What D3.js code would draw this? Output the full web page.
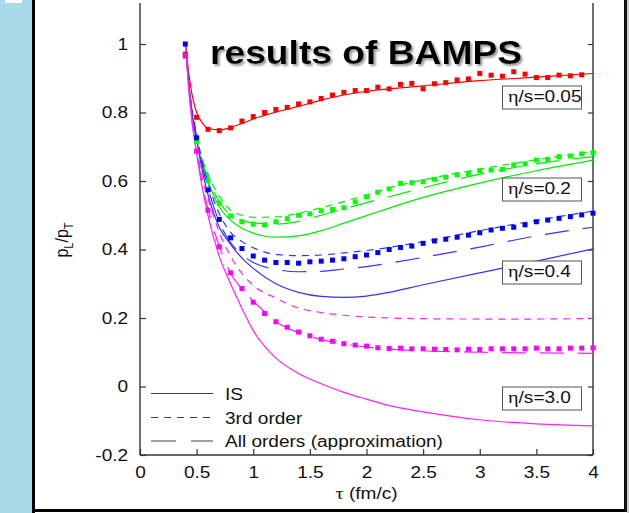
<!DOCTYPE html>
<html>
<head>
<meta charset="utf-8">
<script src="https://cdn.jsdelivr.net/npm/d3@7"></script>
<style>
  html, body { margin: 0; padding: 0; background: #fff; overflow: hidden; }
  text { font-family: "Liberation Sans", Arial, Helvetica, sans-serif; fill: #111; }
</style>
</head>
<body>
<svg id="chart" width="629" height="513"></svg>
<script>
// ---- BAMPS transport results: p_L/p_T vs proper time (tau in fm/c) ----
const tauDots = [0.4,0.5,0.6,0.7,0.8,0.9,1.0,1.1,1.2,1.3,1.4,1.5,1.6,1.7,1.8,1.9,2.0,2.1,2.2,
                 2.3,2.4,2.5,2.6,2.7,2.8,2.9,3.0,3.1,3.2,3.3,3.4,3.5,3.6,3.7,3.8,3.9,4.0];

const bampsEta005 = [0.970,0.786,0.751,0.747,0.755,0.775,0.788,0.800,0.809,0.815,0.825,0.831,0.841,0.851,0.859,0.864,0.864,0.874,0.869,
                     0.882,0.885,0.869,0.884,0.887,0.895,0.898,0.914,0.909,0.906,0.919,0.912,0.902,0.902,0.909,0.907,0.910];
const bampsEta02  = [0.965,0.715,0.600,0.535,0.498,0.481,0.474,0.472,0.481,0.490,0.500,0.504,0.513,0.517,0.522,0.539,0.554,0.567,0.577,
                     0.593,0.595,0.598,0.605,0.611,0.618,0.622,0.630,0.632,0.634,0.647,0.650,0.661,0.663,0.671,0.673,0.679,0.683];
const bampsEta04  = [1.000,0.726,0.574,0.488,0.434,0.403,0.381,0.369,0.362,0.362,0.360,0.364,0.366,0.369,0.373,0.379,0.384,0.391,0.400,
                     0.406,0.410,0.418,0.425,0.430,0.436,0.442,0.449,0.457,0.462,0.465,0.472,0.481,0.486,0.491,0.496,0.501,0.506];
const bampsEta30  = [0.965,0.687,0.515,0.408,0.332,0.286,0.246,0.213,0.189,0.173,0.159,0.148,0.138,0.132,0.125,0.121,0.118,0.113,0.111,
                     0.112,0.110,0.110,0.109,0.108,0.107,0.109,0.108,0.110,0.110,0.110,0.110,0.112,0.110,0.110,0.112,0.112,0.113];

// hydrodynamic curves sampled on a common tau grid
const tauLine = [0.4,0.45,0.5,0.55,0.6,0.7,0.8,0.9,1.0,1.2,1.4,1.6,1.8,2.0,2.2,2.5,3.0,3.5,4.0];

const isEta005   = [1.000,0.870,0.800,0.770,0.754,0.749,0.756,0.768,0.781,0.801,0.818,0.836,0.851,0.862,0.869,0.878,0.893,0.903,0.914];

const isEta02    = [1.000,0.820,0.720,0.650,0.600,0.525,0.485,0.462,0.448,0.436,0.440,0.455,0.477,0.499,0.521,0.552,0.594,0.630,0.661];
const ord3Eta02  = [1.000,0.830,0.730,0.665,0.620,0.556,0.515,0.500,0.494,0.495,0.506,0.522,0.540,0.560,0.580,0.603,0.635,0.662,0.686];
const allEta02   = [1.000,0.825,0.725,0.660,0.610,0.540,0.500,0.485,0.478,0.474,0.482,0.500,0.518,0.537,0.554,0.580,0.620,0.650,0.671];

const isEta04    = [1.000,0.820,0.720,0.630,0.560,0.465,0.415,0.375,0.345,0.300,0.275,0.263,0.260,0.264,0.275,0.297,0.332,0.366,0.402];
const ord3Eta04  = [1.000,0.830,0.735,0.655,0.595,0.505,0.450,0.423,0.405,0.386,0.382,0.384,0.390,0.397,0.406,0.423,0.455,0.485,0.512];
const allEta04   = [1.000,0.825,0.730,0.645,0.580,0.480,0.420,0.385,0.362,0.342,0.335,0.336,0.343,0.350,0.360,0.377,0.407,0.440,0.465];

const isEta30    = [1.000,0.800,0.680,0.580,0.500,0.380,0.300,0.228,0.163,0.083,0.038,0.008,-0.017,-0.037,-0.056,-0.074,-0.097,-0.109,-0.115];
const ord3Eta30  = [1.000,0.810,0.700,0.610,0.550,0.450,0.380,0.330,0.295,0.258,0.229,0.216,0.208,0.203,0.200,0.198,0.197,0.197,0.199];
const allEta30   = [1.000,0.800,0.690,0.590,0.520,0.410,0.330,0.285,0.250,0.190,0.157,0.137,0.124,0.115,0.109,0.104,0.100,0.098,0.097];

const xTicks = [0,0.5,1,1.5,2,2.5,3,3.5,4];
const yTicks = [-0.2,0,0.2,0.4,0.6,0.8,1];
const etaLabels = ["η/s=0.05","η/s=0.2","η/s=0.4","η/s=3.0"];
const legendLabels = ["IS","3rd order","All orders (approximation)"];

// ---- layout ----
const W = 629, H = 513;
const SX = 1.19; // horizontal stretch of the typeset text
const svg = d3.select("#chart");

// page frame
svg.append("rect").attr("x",0).attr("y",0).attr("width",W).attr("height",H).attr("fill","#fff");
svg.append("rect").attr("x",0).attr("y",0).attr("width",32).attr("height",H).attr("fill","#a9d9e8");
svg.append("rect").attr("x",5).attr("y",0).attr("width",17).attr("height",3).attr("fill","#fff");
svg.append("rect").attr("x",32).attr("y",0).attr("width",3).attr("height",H).attr("fill","#000");
svg.append("rect").attr("x",32).attr("y",509).attr("width",595).attr("height",3).attr("fill","#000");
svg.append("rect").attr("x",624).attr("y",0).attr("width",3).attr("height",512).attr("fill","#111");
svg.append("rect").attr("x",627).attr("y",0).attr("width",2).attr("height",H).attr("fill","#cfcfcf");

const x = d3.scaleLinear().domain([0,4]).range([140,593]);
const y = d3.scaleLinear().domain([-0.2,1]).range([455,44]);
const plotTop = 3;

function stretched(parent, px, py, str, anchor, size) {
  return parent.append("text")
    .attr("transform", `translate(${px},${py}) scale(${SX},1)`)
    .attr("text-anchor", anchor)
    .style("font-size", size + "px")
    .text(str);
}

// axes
const axisColor = "#333";
const fmt = d => d === 0 ? "0" : String(+d.toFixed(1));

const gx = svg.append("g").attr("transform", `translate(0,${y(-0.2)})`)
  .call(d3.axisBottom(x).tickValues(xTicks).tickFormat(fmt).tickSizeInner(-6).tickSizeOuter(0).tickPadding(11));
const gy = svg.append("g").attr("transform", `translate(${x(0)},0)`)
  .call(d3.axisLeft(y).tickValues(yTicks).tickFormat(fmt).tickSizeInner(-6).tickSizeOuter(0).tickPadding(10));
const gr = svg.append("g").attr("transform", `translate(${x(4)},0)`)
  .call(d3.axisRight(y).tickValues(yTicks).tickFormat("").tickSizeInner(-5).tickSizeOuter(0));

[gx, gy, gr].forEach(g => {
  g.select(".domain").remove();
  g.selectAll(".tick line").attr("stroke", axisColor).attr("stroke-width", 1.2);
  g.selectAll(".tick text")
    .attr("fill", "#111")
    .style("font-family", '"Liberation Sans", Arial, sans-serif')
    .style("font-size", "16px")
    .attr("transform", `scale(${SX},1)`);
});
gx.selectAll(".tick text").attr("dy", "0.72em");

// axis frame lines
svg.append("line").attr("x1", x(0)).attr("x2", x(0)).attr("y1", plotTop).attr("y2", y(-0.2))
  .attr("stroke", axisColor).attr("stroke-width", 1.4);
svg.append("line").attr("x1", x(4)).attr("x2", x(4)).attr("y1", plotTop).attr("y2", y(-0.2))
  .attr("stroke", axisColor).attr("stroke-width", 1.4);
svg.append("line").attr("x1", x(0)).attr("x2", x(4)).attr("y1", y(-0.2)).attr("y2", y(-0.2))
  .attr("stroke", axisColor).attr("stroke-width", 1.4);

// axis titles
const xt = svg.append("text")
  .attr("transform", `translate(${x(2)},499) scale(${SX},1)`)
  .attr("text-anchor", "middle").style("font-size", "16px");
xt.append("tspan").style("font-family", '"Liberation Serif", serif').style("font-size","17px").text("τ");
xt.append("tspan").text(" (fm/c)");

const yt = svg.append("text")
  .attr("transform", `translate(68,240) scale(${SX},1) rotate(-90)`)
  .attr("text-anchor", "middle").style("font-size", "16px");
yt.append("tspan").text("p");
yt.append("tspan").attr("dy", 4).style("font-size", "11px").text("L");
yt.append("tspan").attr("dy", -4).text("/p");
yt.append("tspan").attr("dy", 4).style("font-size", "11px").text("T");

// curves
const line = d3.line().x(d => x(d[0])).y(d => y(d[1])).curve(d3.curveMonotoneX);
const SOLID = null, SHORT = "7,6", LONG = "24,14";
const curves = [
  { v: isEta005,  c: "#ff0000", dash: SOLID },
  { v: isEta02,   c: "#00ee00", dash: SOLID },
  { v: ord3Eta02, c: "#00ee00", dash: SHORT },
  { v: allEta02,  c: "#00ee00", dash: LONG },
  { v: isEta04,   c: "#3333ff", dash: SOLID },
  { v: ord3Eta04, c: "#3333ff", dash: SHORT },
  { v: allEta04,  c: "#3333ff", dash: LONG },
  { v: isEta30,   c: "#ff22ff", dash: SOLID },
  { v: ord3Eta30, c: "#ff22ff", dash: SHORT },
  { v: allEta30,  c: "#ff22ff", dash: LONG }
];
const gc = svg.append("g");
curves.forEach(s => {
  gc.append("path")
    .attr("d", line(s.v.map((val, i) => [tauLine[i], val])))
    .attr("fill", "none")
    .attr("stroke", s.c)
    .attr("stroke-width", 1.2)
    .attr("stroke-dasharray", s.dash);
});

// BAMPS points
const dots = [
  { v: bampsEta005, c: "#ff0000" },
  { v: bampsEta02,  c: "#00ff00" },
  { v: bampsEta04,  c: "#0000ff" },
  { v: bampsEta30,  c: "#ff00ff" }
];
const S = 5;
dots.forEach(s => {
  svg.append("g").selectAll("rect")
    .data(s.v.map((val, i) => [tauDots[i], val]))
    .join("rect")
    .attr("x", d => x(d[0]) - S / 2)
    .attr("y", d => y(d[1]) - S / 2)
    .attr("width", S).attr("height", S)
    .attr("fill", s.c);
});

// eta/s boxes
const boxTops = [86, 178, 261, 387];
etaLabels.forEach((lab, i) => {
  svg.append("rect").attr("x", 502.5).attr("y", boxTops[i]).attr("width", 79).attr("height", 23)
    .attr("fill", "#fff").attr("stroke", "#555").attr("stroke-width", 1);
  const t = svg.append("text")
    .attr("transform", `translate(508,${boxTops[i] + 16}) scale(${SX},1)`)
    .style("font-size", "16px");
  t.append("tspan").style("font-family", '"Liberation Serif", serif').style("font-size", "17px").text(lab.slice(0, 1));
  t.append("tspan").text(lab.slice(1));
});

// legend
const legY = [393.5, 417.5, 441];
const legDash = [SOLID, SHORT, "25,15"];
legendLabels.forEach((lab, i) => {
  svg.append("line").attr("x1", 151).attr("x2", 213).attr("y1", legY[i]).attr("y2", legY[i])
    .attr("stroke", "#444").attr("stroke-width", 1.1).attr("stroke-dasharray", legDash[i]);
  stretched(svg, 225, legY[i] + 6, lab, "start", 16);
});

// title with a soft grey drop shadow
const defs = svg.append("defs");
const shadow = defs.append("filter").attr("id", "titleShadow")
  .attr("x", "-5%").attr("y", "-20%").attr("width", "115%").attr("height", "150%");
shadow.append("feOffset").attr("in", "SourceAlpha").attr("dx", 2).attr("dy", 2).attr("result", "off");
shadow.append("feGaussianBlur").attr("in", "off").attr("stdDeviation", 0.9).attr("result", "blur");
shadow.append("feFlood").attr("flood-color", "#9a9a9a").attr("result", "col");
shadow.append("feComposite").attr("in", "col").attr("in2", "blur").attr("operator", "in").attr("result", "sh");
const merge = shadow.append("feMerge");
merge.append("feMergeNode").attr("in", "sh");
merge.append("feMergeNode").attr("in", "SourceGraphic");

svg.append("text").attr("x", 210).attr("y", 64)
  .attr("textLength", 312).attr("lengthAdjust", "spacingAndGlyphs")
  .style("font-size", "34px").style("font-weight", "bold").style("fill", "#000")
  .attr("filter", "url(#titleShadow)")
  .text("results of BAMPS");
</script>
</body>
</html>
